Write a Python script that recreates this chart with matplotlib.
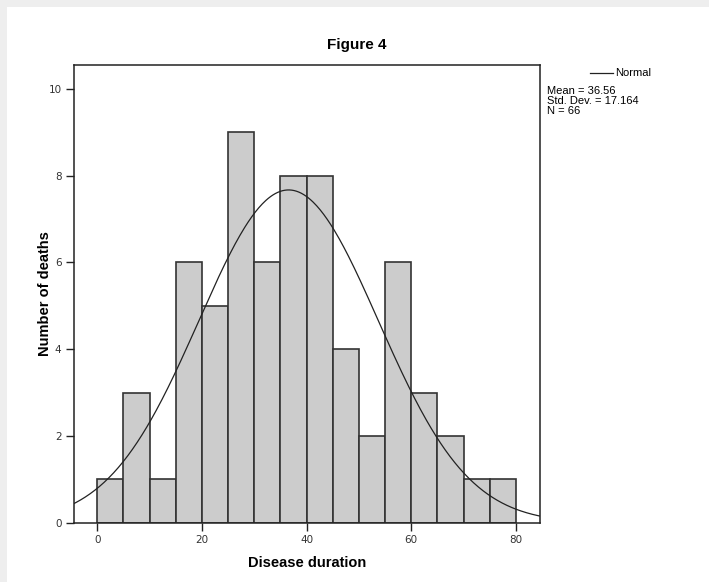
import numpy as np
import matplotlib.pyplot as plt
from matplotlib.patches import Rectangle

# histogram of disease duration (bin width 5)
bin_edges = [0, 5, 10, 15, 20, 25, 30, 35, 40, 45, 50, 55, 60, 65, 70, 75, 80]
counts = [1, 3, 1, 6, 5, 9, 6, 8, 8, 4, 2, 6, 3, 2, 1, 1]
mean = 36.56
std = 17.164
n = 66

fig = plt.figure(figsize=(7.09, 5.82), dpi=100)
fig.patch.set_facecolor("#eeeeee")
fig.patches.append(Rectangle((7 / 709, 0), 1, 1 - 7 / 582, transform=fig.transFigure,
                             facecolor="white", edgecolor="none", zorder=-10))

ax = fig.add_axes([74 / 709, 1 - 522.7 / 582, (540 - 74) / 709, (522.7 - 65) / 582])

widths = np.diff(bin_edges)
ax.bar(bin_edges[:-1], counts, width=widths, align="edge",
       color="#cccccc", edgecolor="#333333", linewidth=1.2, zorder=2)

# normal curve scaled to counts
xs = np.linspace(-5, 85, 400)
binw = widths[0]
ys = n * binw / (std * np.sqrt(2 * np.pi)) * np.exp(-0.5 * ((xs - mean) / std) ** 2)
ax.plot(xs, ys, color="#222222", linewidth=0.9, zorder=3)

ax.set_xlim(-4.45, 84.6)
ax.set_ylim(0, 10.55)
ax.set_xticks([0, 20, 40, 60, 80])
ax.set_yticks([0, 2, 4, 6, 8, 10])
ax.tick_params(direction="out", length=6, width=1, labelsize=7.5, color="#222222",
               labelcolor="#333333", pad=3)
for s in ax.spines.values():
    s.set_color("#222222")
    s.set_linewidth(1.1)

ax.set_xlabel("Disease duration", fontsize=10.5, fontweight="bold", family="Liberation Sans")
ax.set_ylabel("Number of deaths", fontsize=10.5, fontweight="bold", family="Liberation Sans")
ax.xaxis.set_label_coords(0.5, -0.073)
ax.yaxis.set_label_coords(-0.047, 0.5)
fig.text(357 / 709, 1 - 45 / 582, "Figure 4", fontsize=11, fontweight="bold",
         family="Liberation Sans", ha="center", va="center")

# legend and summary box
fig.add_artist(plt.Line2D([590 / 709, 613 / 709], [1 - 73 / 582] * 2,
                          transform=fig.transFigure, color="#222222", linewidth=0.9))
fig.text(615 / 709, 1 - 73 / 582, "Normal", fontsize=8, family="Liberation Sans",
         va="center", ha="left")
stats = [f"Mean = {mean}", f"Std. Dev. = {std}", f"N = {n}"]
for i, line in enumerate(stats):
    fig.text(547 / 709, 1 - (91 + 10 * i) / 582, line, fontsize=8,
             family="Liberation Sans", va="center", ha="left")

fig.savefig("out.png", dpi=100)
